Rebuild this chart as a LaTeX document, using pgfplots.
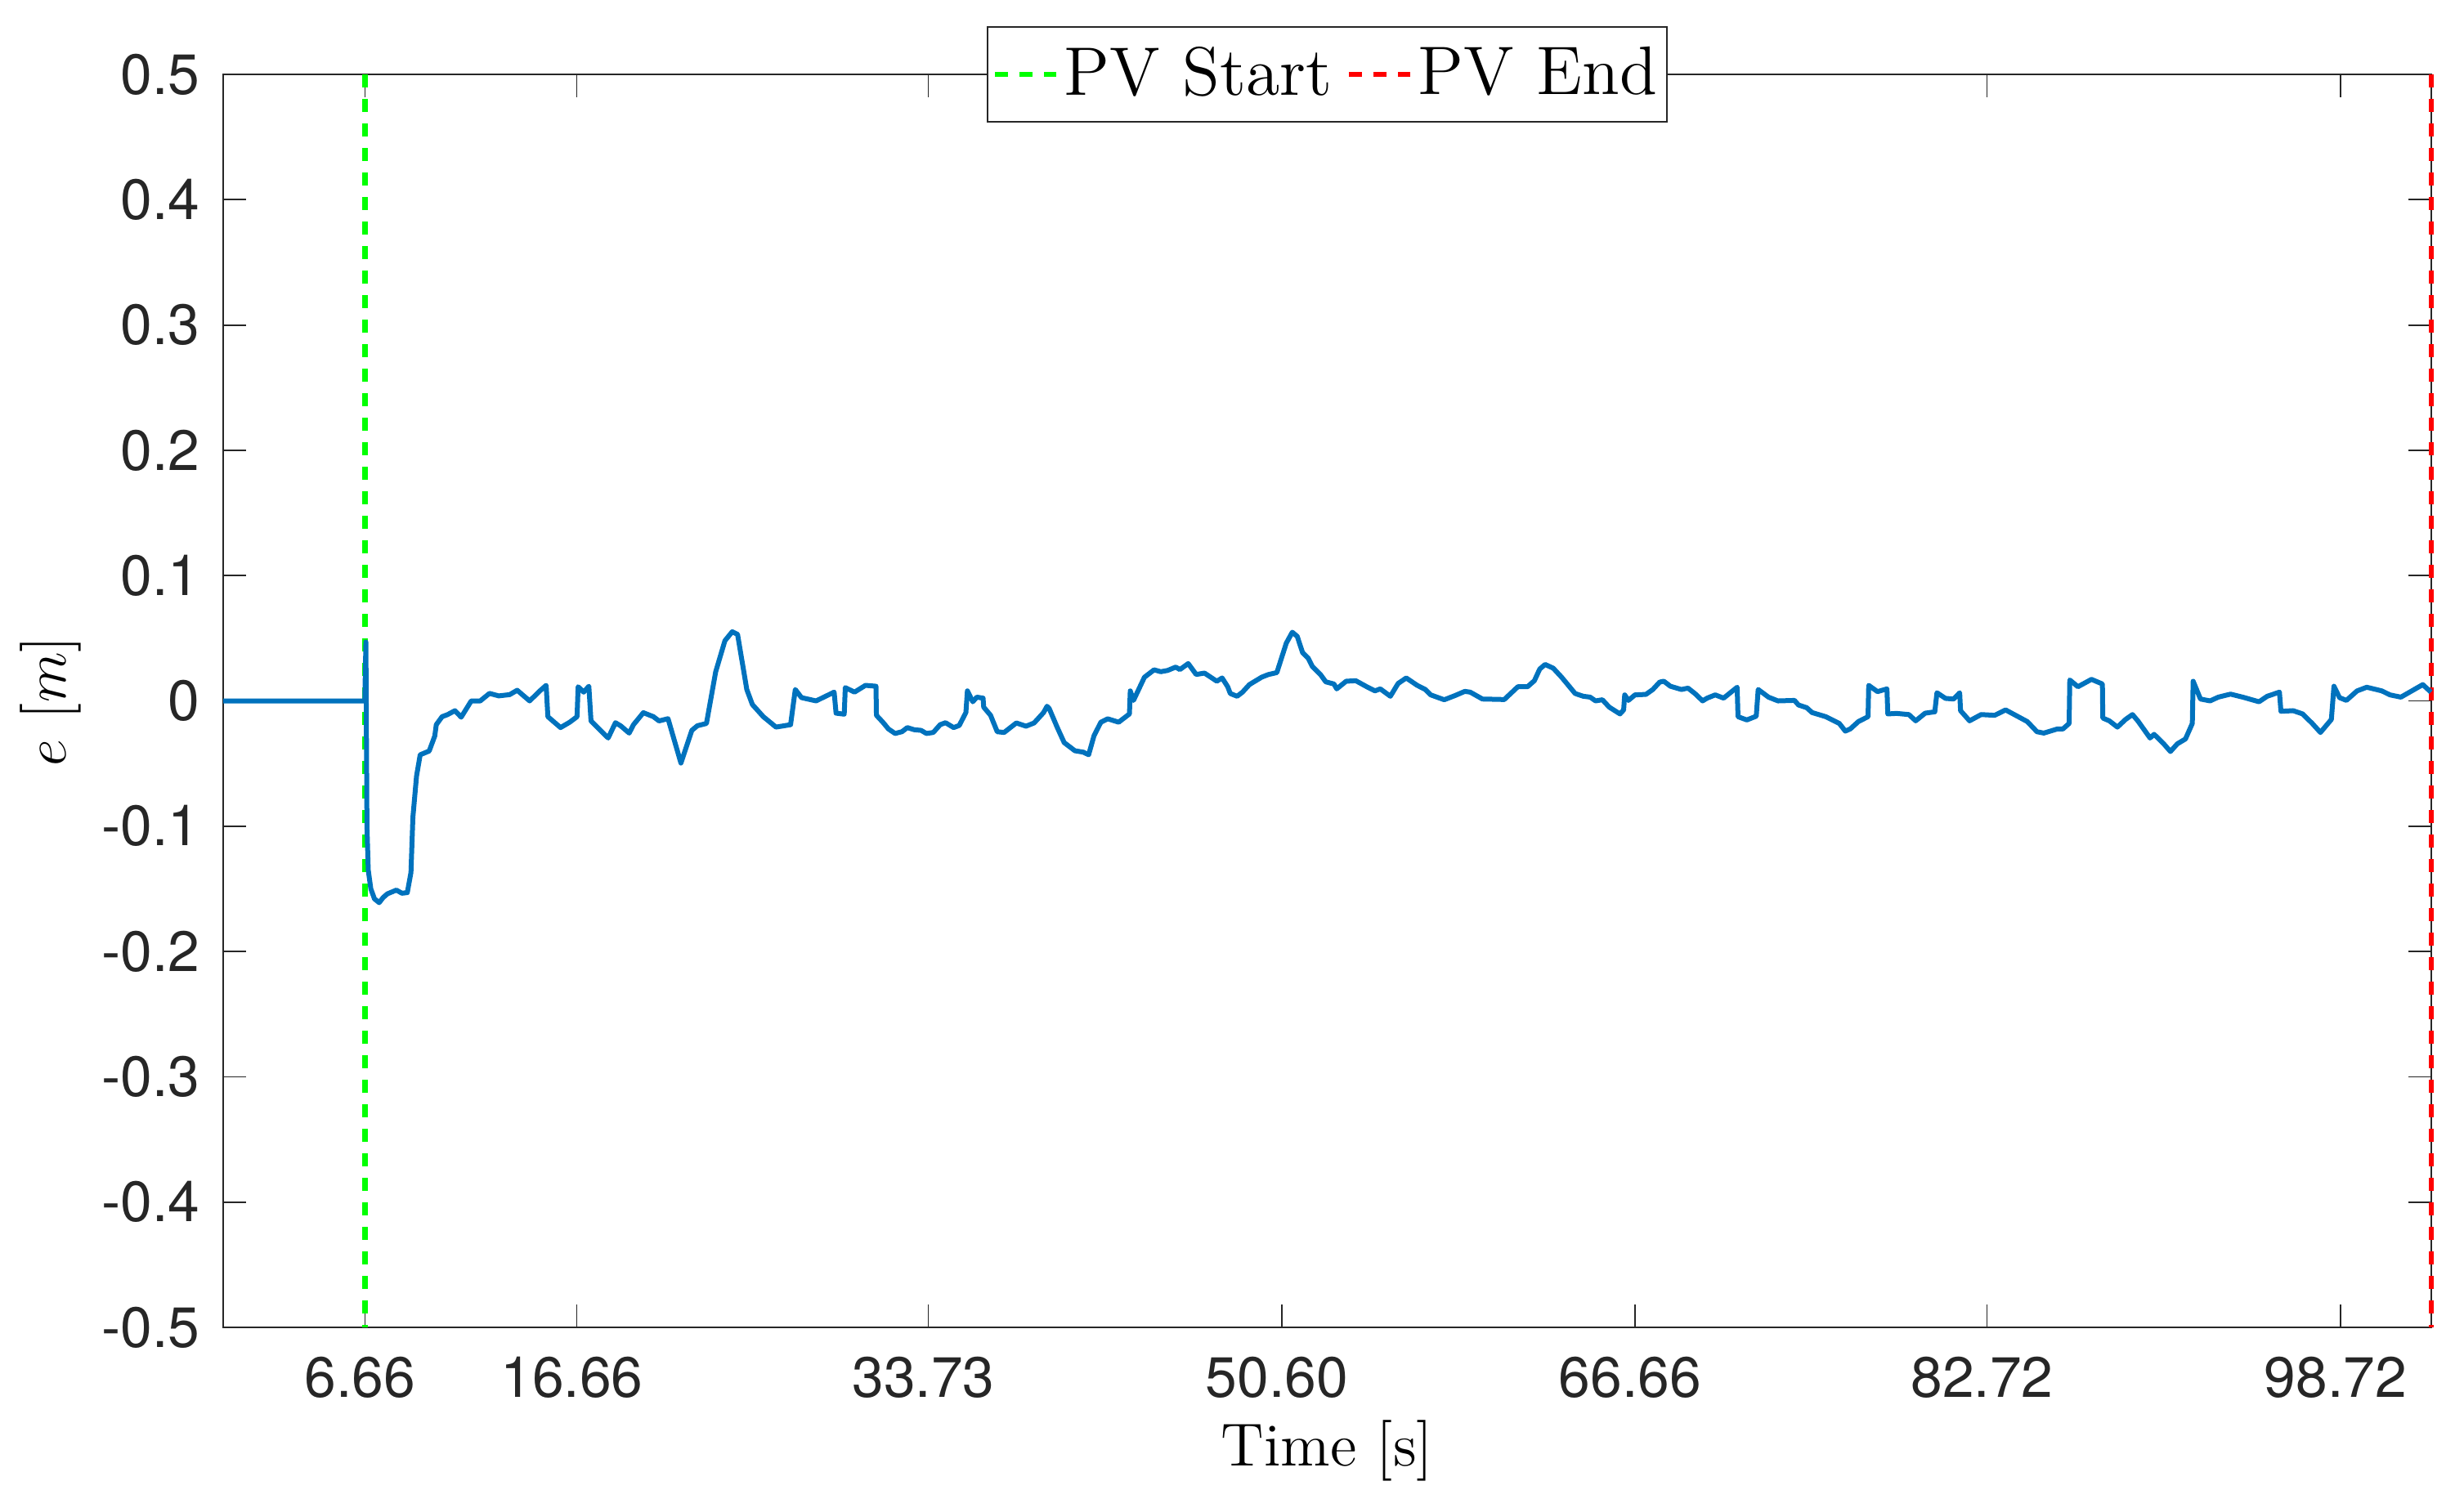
\documentclass[border=0pt]{standalone}
\usepackage{fontspec}
\usepackage{pgfplots}
\usepackage{pgfplotstable}
\pgfplotsset{compat=1.18}
\newfontfamily\tickfont{TeX Gyre Heros}
\definecolor{mblue}{rgb}{0,0.447,0.741}
\definecolor{axgray}{rgb}{0.15,0.15,0.15}
\pgfplotstableread{
t v
0 0
6.60 0
6.65 0.047
6.70 -0.100
6.76 -0.135
6.88 -0.150
7.05 -0.158
7.27 -0.161
7.45 -0.157
7.65 -0.154
8.07 -0.151
8.33 -0.1535
8.58 -0.153
8.75 -0.137
8.84 -0.093
9.01 -0.060
9.18 -0.043
9.60 -0.040
9.86 -0.028
9.93 -0.019
10.20 -0.0126
10.45 -0.011
10.80 -0.0078
11.09 -0.013
11.56 0.0
11.98 0.0
12.41 0.006
12.84 0.004
13.35 0.005
13.70 0.0085
14.28 0.0
14.79 0.0085
15.05 0.0124
15.13 -0.0126
15.72 -0.0213
16.15 -0.017
16.49 -0.0126
16.54 0.0113
16.80 0.0070
17.04 0.0117
17.14 -0.016
17.51 -0.0224
17.94 -0.0296
18.28 -0.0174
18.53 -0.020
18.92 -0.0257
19.12 -0.019
19.58 -0.0094
20.05 -0.0126
20.31 -0.016
20.73 -0.0142
21.33 -0.0496
21.84 -0.0235
22.10 -0.0198
22.52 -0.018
22.95 0.0232
23.38 0.048
23.72 0.0552
23.97 0.0531
24.40 0.0091
24.66 -0.0029
25.17 -0.0126
25.76 -0.0209
26.44 -0.019
26.66 0.0091
26.95 0.0026
27.63 0.0
28.47 0.0070
28.56 -0.0098
28.94 -0.0106
28.99 0.0106
29.42 0.007
29.93 0.0124
30.42 0.0117
30.44 -0.0115
30.74 -0.017
31.00 -0.0224
31.31 -0.026
31.63 -0.0246
31.88 -0.0213
32.20 -0.023
32.52 -0.0235
32.77 -0.026
33.09 -0.0252
33.41 -0.019
33.66 -0.0174
34.04 -0.0213
34.30 -0.0196
34.61 -0.0093
34.68 0.008
34.93 -0.0007
35.12 0.003
35.41 0.0022
35.44 -0.005
35.76 -0.0115
36.07 -0.0246
36.39 -0.0252
36.96 -0.0176
37.41 -0.0202
37.79 -0.0176
38.23 -0.0093
38.39 -0.0043
38.49 -0.006
38.87 -0.0213
39.19 -0.0333
39.69 -0.0398
40.08 -0.0409
40.33 -0.043
40.58 -0.0278
40.90 -0.017
41.22 -0.0143
41.73 -0.017
42.23 -0.0104
42.27 0.008
42.42 0.0004
42.93 0.0189
43.38 0.0248
43.69 0.0233
44.01 0.0243
44.39 0.027
44.58 0.025
44.97 0.0298
45.34 0.0211
45.73 0.0222
46.30 0.0157
46.55 0.0183
46.81 0.0113
46.93 0.0059
47.25 0.0037
47.50 0.007
47.82 0.013
48.39 0.0189
48.70 0.0210
49.10 0.0226
49.54 0.0461
49.82 0.0548
50.05 0.0515
50.30 0.0385
50.56 0.0341
50.75 0.0276
51.13 0.0211
51.38 0.0152
51.76 0.0135
51.89 0.0096
52.33 0.0157
52.78 0.0161
53.29 0.0113
53.67 0.008
53.92 0.0096
54.39 0.0037
54.75 0.0139
55.13 0.0183
55.64 0.0124
56.02 0.0091
56.27 0.0048
56.90 0.0009
57.41 0.0043
57.86 0.0076
58.11 0.007
58.68 0.0015
59.70 0.0011
60.33 0.0113
60.78 0.0113
61.10 0.0161
61.35 0.0254
61.60 0.0291
61.98 0.0261
62.37 0.0189
63.00 0.0059
63.38 0.0037
63.70 0.003
63.95 0.0
64.27 0.0009
64.59 -0.005
65.09 -0.0104
65.26 -0.0072
65.31 0.0048
65.48 0.0004
65.79 0.0048
66.30 0.0052
66.62 0.0091
66.94 0.015
67.13 0.0157
67.44 0.0117
67.95 0.0091
68.26 0.0102
68.58 0.0059
68.94 0.0
69.15 0.0022
69.53 0.0048
69.92 0.0022
70.23 0.0065
70.55 0.0109
70.59 -0.0126
71.00 -0.0152
71.44 -0.0122
71.53 0.0091
72.01 0.003
72.45 0.0
73.22 0.0004
73.41 -0.0033
73.79 -0.0054
74.04 -0.0093
74.68 -0.0126
75.31 -0.018
75.59 -0.0241
75.82 -0.0224
76.20 -0.0165
76.65 -0.0126
76.68 0.0124
77.09 0.0074
77.53 0.0096
77.57 -0.0104
77.98 -0.01
78.55 -0.0109
78.87 -0.0159
79.31 -0.0098
79.76 -0.0087
79.86 0.0065
80.26 0.002
80.64 0.0015
80.92 0.0065
80.96 -0.0078
81.38 -0.0159
81.92 -0.0109
82.55 -0.0115
83.06 -0.0072
83.69 -0.013
84.07 -0.0165
84.52 -0.0246
84.84 -0.0257
85.47 -0.0224
85.73 -0.0224
86.02 -0.018
86.05 0.0167
86.43 0.0113
87.06 0.0172
87.57 0.0135
87.59 -0.0137
87.89 -0.0159
88.27 -0.0209
88.65 -0.0148
88.97 -0.0109
89.22 -0.0159
89.79 -0.0296
89.98 -0.0267
90.43 -0.0343
90.74 -0.0404
91.06 -0.0343
91.44 -0.0304
91.76 -0.018
91.80 0.0157
92.14 0.0015
92.59 0.0
92.97 0.003
93.54 0.0054
94.11 0.003
94.87 -0.0007
95.25 0.0037
95.82 0.007
95.89 -0.0083
96.46 -0.0078
96.90 -0.0104
97.35 -0.018
97.73 -0.0252
98.24 -0.0148
98.36 0.0117
98.62 0.0026
98.94 0.0004
99.44 0.008
99.89 0.0109
100.59 0.008
100.97 0.0048
101.48 0.003
101.99 0.008
102.50 0.013
102.88 0.007
}\errdata
\begin{document}
\begin{tikzpicture}
\useasboundingbox (-45.5pt,-36.67pt) rectangle (456.83pt,270.67pt);
\begin{axis}[
  at={(0pt,0pt)}, anchor=south west, scale only axis,
  width=450.17pt, height=255.5pt,
  xmin=0, xmax=102.9, ymin=-0.5, ymax=0.5,
  clip=false,
  axis line style={axgray, line width=0.3pt},
  tick style={axgray, line width=0.3pt},
  major tick length=4.67pt, tick align=inside, tick pos=both,
  xtick={6.606,16.48,32.86,49.33,65.79,82.19,98.67},
  xticklabels={6.66,16.66,33.73,50.60,66.66,82.72,98.72},
  ytick={-0.5,-0.4,-0.3,-0.2,-0.1,0,0.1,0.2,0.3,0.4,0.5},
  yticklabels={-0.5,-0.4,-0.3,-0.2,-0.1,0,0.1,0.2,0.3,0.4,0.5},
  ticklabel style={font=\tickfont\fontsize{11.6}{13.5}\selectfont, text=axgray},
  xticklabel style={anchor=base, yshift=-14.2pt, xshift=-1pt},
  yticklabel style={xshift=-1.2pt},
  xlabel={Time [s]},
  ylabel={$e$ [$m$]},
  xlabel style={at={(axis description cs:0.5,-0.1104)}, anchor=base, font=\fontsize{12.4}{15}\selectfont},
  ylabel style={at={(axis description cs:-0.078,0.5)}, anchor=center, font=\fontsize{12.4}{15}\selectfont},
  legend columns=2,
  legend style={at={(0.5,1)}, anchor=center, draw=axgray, line width=0.3pt, fill=white,
    font=\fontsize{14}{17}\selectfont, inner xsep=1pt, inner ysep=3pt,
    nodes={inner xsep=1pt, inner ysep=1pt},
    /tikz/every even column/.append style={column sep=2pt}},
  legend image code/.code={\draw[#1] (0pt,0pt) -- (12.5pt,0pt);},
]
\addplot[green, line width=1.05pt, dash pattern=on 2.6pt off 2.4pt] coordinates {(6.606,0.5) (6.606,-0.5)};
\addlegendentry{PV Start}
\addplot[red, line width=1.05pt, dash pattern=on 2.6pt off 2.4pt] coordinates {(102.9,0.5) (102.9,-0.5)};
\addlegendentry{PV End}
\addplot[mblue, line width=1.0pt, line join=round, forget plot] table[x=t, y=v] {\errdata};
\end{axis}
\end{tikzpicture}
\end{document}
